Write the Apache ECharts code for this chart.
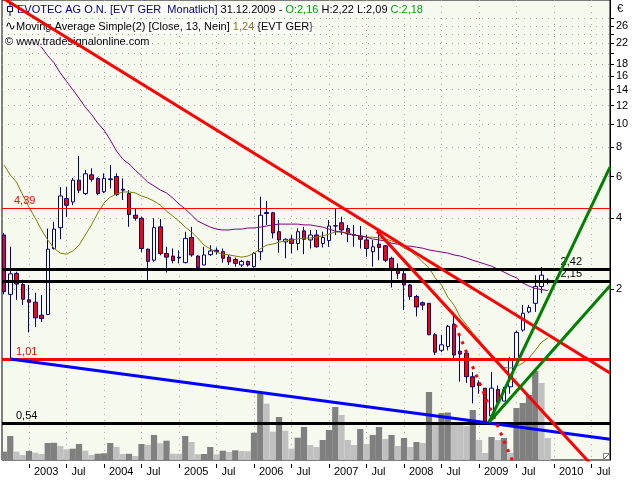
<!DOCTYPE html>
<html><head><meta charset="utf-8">
<script src="https://cdn.jsdelivr.net/npm/echarts@6/dist/echarts.min.js"></script>
<style>html,body{margin:0;padding:0;background:#fff}#c{width:640px;height:480px}</style>
</head><body><div id="c"></div>
<script>
// ---------- DATA (monthly, Sep 2002 .. Dec 2009) ----------
const firstMonth = [2002, 9];
const monthCount = 88;
const open = [3.39,1.90,2.33,2.09,1.80,1.76,1.55,1.56,2.97,3.64,4.84,4.68,5.79,5.08,6.10,5.89,5.17,5.86,6.00,5.30,5.08,4.11,3.99,2.95,2.65,3.67,2.83,2.76,2.73,2.59,3.31,2.76,2.53,2.80,2.92,2.88,2.73,2.67,2.53,2.62,2.49,2.88,4.22,4.21,3.50,3.17,3.26,3.12,3.53,3.23,3.39,3.12,3.21,3.71,3.82,3.61,3.40,3.36,3.23,2.88,3.10,3.05,2.70,2.40,2.32,2.08,1.86,1.75,1.74,1.28,1.10,1.14,1.42,1.09,1.07,0.85,0.80,0.76,0.58,0.75,0.67,0.77,1.01,1.34,1.60,1.74,2.05,2.16];
const high = [3.46,3.02,2.37,2.19,2.08,1.93,1.89,3.61,3.86,5.41,5.41,5.90,7.33,6.39,6.50,5.95,6.19,6.71,6.19,5.89,5.25,4.39,4.05,2.97,3.99,3.96,3.02,2.97,2.92,3.50,3.67,2.78,3.02,3.07,3.00,2.97,2.79,2.72,2.66,2.64,2.87,4.92,4.73,4.25,3.92,3.28,3.39,3.62,3.67,3.56,3.56,3.50,3.92,4.39,4.05,3.74,3.74,3.70,3.39,3.23,3.46,3.07,2.74,2.57,2.45,2.10,1.89,1.77,1.74,1.30,1.28,1.41,1.55,1.28,1.08,0.89,0.82,0.76,0.89,0.78,0.77,1.03,1.33,1.71,1.71,2.29,2.48,2.22];
const low = [1.90,1.01,1.80,1.71,1.31,1.38,1.45,1.55,2.94,3.25,4.05,4.53,5.10,5.01,5.70,5.00,5.10,5.34,4.95,4.77,3.67,3.90,2.87,2.18,2.61,2.78,2.35,2.57,2.57,2.57,2.74,2.45,2.52,2.76,2.80,2.59,2.53,2.49,2.48,2.49,2.46,2.65,3.74,3.28,2.85,2.70,2.83,2.92,2.81,2.97,3.00,3.00,3.02,3.39,3.39,3.16,3.02,2.97,2.74,2.49,2.65,2.60,2.03,2.21,1.63,1.80,1.53,1.63,1.28,1.05,1.08,1.10,1.02,0.81,0.80,0.655,0.72,0.54,0.57,0.655,0.67,0.72,0.99,1.32,1.58,1.60,1.92,2.09];
const close = [1.95,2.32,2.10,1.81,1.76,1.51,1.50,2.95,3.59,4.96,4.53,5.79,5.25,6.16,5.84,5.08,5.89,5.82,5.03,5.25,4.14,3.99,2.97,2.62,3.64,2.83,2.73,2.64,2.71,3.28,2.79,2.47,2.79,2.90,2.88,2.70,2.61,2.57,2.62,2.53,2.83,4.11,4.18,3.46,3.23,3.25,3.12,3.50,3.25,3.39,3.02,3.31,3.70,3.70,3.56,3.43,3.37,3.25,2.97,3.02,3.00,2.65,2.45,2.33,2.08,1.86,1.68,1.71,1.28,1.08,1.16,1.39,1.05,1.06,0.85,0.77,0.78,0.55,0.76,0.66,0.75,1.01,1.31,1.58,1.67,2.05,2.29,2.18];
const volume = [8.3,24,8.3,5,9,7.3,6,17,17.2,14,10.7,11.3,16,9.3,5,6.3,6.7,17,13,6,6.2,4,16,15,25,16.7,19.3,6.3,6.2,24,18,5.7,6,13,5.7,9.3,8,9.7,9,8.8,27.3,66.3,56.3,28.3,43,29.3,11.3,22.3,33,15,13,20,30,53,45,20,15,31,16,25,33,21,25,14,22,13,18,17,68,36.5,47,47.5,36,35,34,50,20,7,23,20,22,7,52,57,65,89,77,22];
const ma13 = [6.71,6.09,5.68,5.01,4.45,4.00,3.56,3.23,2.98,2.84,2.81,2.90,3.07,3.39,3.74,4.20,4.63,4.91,5.06,5.16,5.16,5.11,4.96,4.86,4.72,4.54,4.28,4.08,3.88,3.66,3.49,3.29,3.07,2.96,2.87,2.81,2.79,2.76,2.73,2.76,2.84,2.96,3.07,3.10,3.16,3.20,3.23,3.26,3.29,3.29,3.32,3.36,3.42,3.49,3.49,3.46,3.39,3.36,3.32,3.32,3.29,3.26,3.20,3.13,2.98,2.90,2.76,2.60,2.46,2.23,2.08,1.85,1.71,1.52,1.41,1.30,1.22,1.10,1.03,0.97,0.93,0.925,0.94,0.97,1.02,1.10,1.19,1.24];
const maLong = [null,null,null,null,22.3,21.9,21.2,19.5,18.2,16.5,15.2,14.0,12.9,11.8,11.0,10.1,9.44,8.57,7.69,7.11,6.78,6.39,6.03,5.68,5.47,5.26,5.11,4.86,4.59,4.37,4.12,3.88,3.77,3.66,3.59,3.56,3.56,3.59,3.59,3.63,3.63,3.66,3.70,3.74,3.77,3.77,3.77,3.77,3.74,3.74,3.70,3.66,3.59,3.52,3.49,3.42,3.39,3.36,3.32,3.26,3.23,3.20,3.13,3.10,3.04,3.04,3.01,2.98,2.93,2.90,2.87,2.84,2.79,2.76,2.71,2.65,2.60,2.55,2.50,2.43,2.36,2.29,2.23,2.12,2.06,2.01,1.99,1.97];
// trend lines: [monthIndex (0 = Jan 2003), price]
const trendRedLong = [[-4.32, 34.4], [92.96, 0.881]];
const trendRedSteep = [[55.68, 3.52], [90.03, 0.359]];
const trendRedDotted = [[68.16, 1.41], [77.44, 0.369]];
const trendBlue = [[-3, 1.01], [92.96, 0.462]];
const trendGreenSteep = [[73.6, 0.545], [92.96, 6.58]];
const trendGreenFlat = [[73.6, 0.545], [92.96, 2.065]];
const levelsThin = [4.39];
const levelsRed = [1.01];
const levelsBlackRight = [2.42, 2.15];
const levelsBlackLeft = [0.54];
const greenNotes = [[82.7, 1.507, '1,6'], [82.7, 0.948, '1,01']];
const yLabelValues = [2, 4, 6, 8, 10, 12, 14, 16, 18, 22, 26];
const yTickValues = [2, 4, 6, 8, 10, 12, 14, 16, 18, 20, 22, 24, 26, 28];
const xTickValues = [0, 6, 12, 18, 24, 30, 36, 42, 48, 54, 60, 66, 72, 78, 84, 90];

// ---------- BUILD ----------
const monthIdx = [];
for (let i = 0; i < monthCount; i++) {
  monthIdx.push((firstMonth[0] - 2003) * 12 + (firstMonth[1] - 1) + i);
}
const fmt = v => String(v).replace('.', ',');
const FONT = 'Liberation Sans';
const candleData = monthIdx.map((m, i) => [m, open[i], close[i], low[i], high[i]]);
const volData = monthIdx.map((m, i) => ({
  value: [m, volume[i]],
  itemStyle: { color: (i === 0 || volume[i] > volume[i - 1]) ? '#808080' : '#c0c0c0' }
}));
const pair = arr => monthIdx.map((m, i) => [m, arr[i]]);
const trend = (data, color, extra) => Object.assign({
  type: 'line', data, symbol: 'none', silent: true, z: 6, animation: false,
  lineStyle: { color, width: 3 }
}, extra || {});
const rs = (color, size) => ({ color, fontSize: size || 11, fontWeight: 'normal', fontFamily: FONT });

const chart = echarts.init(document.getElementById('c'));
chart.setOption({
  animation: false,
  backgroundColor: '#ffffff',
  textStyle: { fontFamily: FONT },
  title: [
    { left: 15, top: 4, padding: [0, 2], backgroundColor: 'rgba(255,255,255,0.7)',
      text: '{n|EVOTEC AG O.N. [EVT GER  Monatlich]}{k| 31.12.2009 - }{g|O:2,16}{k| H:2,22 L:2,09 }{g|C:2,18}',
      textStyle: { fontSize: 11, fontWeight: 'normal', rich: { n: rs('#000080'), k: rs('#000000'), g: rs('#00a000') } } },
    { left: 3, top: 20, padding: [0, 2], backgroundColor: 'rgba(255,255,255,0.7)',
      text: '{i|∿}{k|Moving Average Simple(2) [Close, 13, Nein] }{o|1,24}{k| {EVT GER}}',
      textStyle: { fontSize: 11, fontWeight: 'normal', rich: { i: rs('#000000', 13), k: rs('#000000'), o: rs('#808000') } } },
    { left: 3, top: 36, padding: [0, 2], backgroundColor: 'rgba(255,255,255,0.7)',
      text: '© www.tradesignalonline.com',
      textStyle: { color: '#000000', fontSize: 11, fontWeight: 'normal', fontFamily: FONT } }
  ],
  graphic: [
    { type: 'line', shape: { x1: 10, y1: 3, x2: 10, y2: 16 }, style: { stroke: '#000080', lineWidth: 1 }, z: 100 },
    { type: 'rect', shape: { x: 7.5, y: 6.5, width: 5, height: 5 }, style: { fill: '#ffffff', stroke: '#000080', lineWidth: 1 }, z: 101 },
    { type: 'text', left: 617, top: 3, style: { text: '€', fontSize: 11, fontFamily: FONT, fill: '#000' } },
    { type: 'rect', shape: { x: 603.5, y: 453.5, width: 6, height: 6 }, style: { fill: '#ffffff', stroke: '#808080', lineWidth: 1 }, z: 100 },
    { type: 'line', shape: { x1: 604, y1: 459, x2: 609, y2: 454 }, style: { stroke: '#606060', lineWidth: 1 }, z: 101 }
  ],
  grid: { left: 2, right: 30, top: 0, bottom: 20, show: true, backgroundColor: '#f6f9ee', borderColor: '#000', borderWidth: 1 },
  xAxis: {
    type: 'value', min: -4.32, max: 92.96, offset: 4,
    axisLine: { show: false, onZero: false },
    axisTick: { show: true, customValues: xTickValues, length: 4, lineStyle: { color: '#000' } },
    axisLabel: { customValues: xTickValues, color: '#000', fontSize: 11, fontFamily: FONT, align: 'left', padding: [0, 0, 0, 5], margin: 2,
      formatter: v => (v % 12 === 0 ? String(2003 + v / 12) : 'Jul') },
    splitLine: { show: true, lineStyle: { color: '#a8a8a8', type: [1, 5], width: 1 } }
  },
  yAxis: [
    { type: 'log', position: 'right', min: 0.377, max: 33.6, logBase: 10,
      axisLine: { show: true, onZero: false, lineStyle: { color: '#000' } },
      axisTick: { show: true, customValues: yTickValues, length: 4, lineStyle: { color: '#000' } },
      axisLabel: { customValues: yLabelValues, color: '#000', fontSize: 11, fontFamily: FONT, margin: 6 },
      splitLine: { show: true, lineStyle: { color: '#a8a8a8', type: [1, 5], width: 1 } }
    },
    { type: 'value', min: 0, max: 460, show: false, axisLine: { onZero: false }, splitLine: { show: false } }
  ],
  series: [
    { type: 'bar', yAxisIndex: 1, data: volData, barWidth: 6.25, silent: true, z: 1, animation: false },
    { type: 'candlestick', data: candleData, encode: { x: 0, y: [1, 2, 3, 4] }, barWidth: 4, z: 3, silent: true,
      itemStyle: { color: '#ffffff', color0: '#ff0000', borderColor: '#000080', borderColor0: '#000080', borderColorDoji: '#000080', borderWidth: 1 } },
    { type: 'line', data: pair(ma13), symbol: 'none', silent: true, z: 4, lineStyle: { color: '#808000', width: 1 } },
    { type: 'line', data: pair(maLong), symbol: 'none', silent: true, z: 4, lineStyle: { color: '#800080', width: 1 } },
    trend(trendBlue, '#0000ff'),
    trend(trendRedLong, '#ff0000'),
    trend(trendRedSteep, '#ff0000'),
    trend(trendRedDotted, '#ff0000', { lineStyle: { color: '#ff0000', width: 3, type: [3, 6] } }),
    trend(trendGreenSteep, '#008000'),
    trend(trendGreenFlat, '#008000'),
    { type: 'line', data: [], silent: true, z: 7,
      markLine: { symbol: 'none', silent: true, animation: false,
        data: [].concat(
          levelsThin.map(v => ({ yAxis: v, lineStyle: { color: '#ff0000', width: 1, type: 'solid' },
            label: { position: 'insideStartTop', distance: [12, 2], color: '#ff0000', formatter: fmt(v) } })),
          levelsRed.map(v => ({ yAxis: v, lineStyle: { color: '#ff0000', width: 3, type: 'solid' },
            label: { position: 'insideStartTop', distance: [14, 2], color: '#ff0000', formatter: fmt(v) } })),
          levelsBlackRight.map(v => ({ yAxis: v, lineStyle: { color: '#000000', width: 3, type: 'solid' },
            label: { position: 'insideEndTop', distance: [28, 2], color: '#000000', formatter: fmt(v) } })),
          levelsBlackLeft.map(v => ({ yAxis: v, lineStyle: { color: '#000000', width: 3, type: 'solid' },
            label: { position: 'insideStartTop', distance: [14, 2], color: '#000000', formatter: fmt(v) } }))
        ),
        label: { fontSize: 11, fontFamily: FONT }
      } },
    { type: 'scatter', data: greenNotes, symbol: 'circle', symbolSize: 1, silent: true, z: 8,
      itemStyle: { opacity: 0 },
      label: { show: true, position: 'right', distance: 0, color: '#008000', fontSize: 11, fontFamily: FONT, formatter: p => p.data[2] } }
  ]
});
</script>
</body></html>
